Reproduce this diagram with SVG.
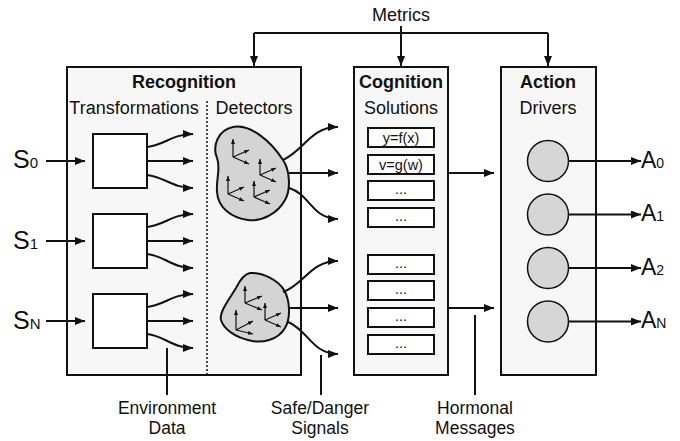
<svg xmlns="http://www.w3.org/2000/svg" width="680" height="441" viewBox="0 0 680 441">
<defs>
<marker id="ah" markerUnits="userSpaceOnUse" markerWidth="10" markerHeight="8" refX="10" refY="4" orient="auto"><path d="M0,0 L10,4 L0,8 Z" fill="#111"/></marker>
<marker id="sah" markerUnits="userSpaceOnUse" markerWidth="5" markerHeight="4" refX="5" refY="2" orient="auto"><path d="M0,0 L5,2 L0,4 Z" fill="#111"/></marker>
<style>
text{font-family:"Liberation Sans",Arial,sans-serif;fill:#111}
.panel{fill:#f7f7f7;stroke:#111;stroke-width:2}
.box{fill:#fff;stroke:#111;stroke-width:2}
.blob{fill:#d4d4d4;stroke:#111;stroke-width:2}
.drv{fill:#d6d6d6;stroke:#111;stroke-width:1.5}
.ln{fill:none;stroke:#111;stroke-width:2}
.arr{fill:none;stroke:#111;stroke-width:2;marker-end:url(#ah)}
.ax{fill:none;stroke:#111;stroke-width:1.2;marker-end:url(#sah)}
.t{font-size:18px;font-weight:bold;text-anchor:middle}
.s{font-size:18px;text-anchor:middle}
.b{font-size:17.5px;text-anchor:middle}
.f{font-size:14.5px;text-anchor:middle}
.big{font-size:25px}
.bigA{font-size:23px}
</style>
</defs>

<g id="recognition">
<rect class="panel" x="67" y="67" width="234" height="308"/>
<text class="t" x="184" y="88">Recognition</text>
<text class="s" x="134" y="114">Transformations</text>
<text class="s" x="254" y="114">Detectors</text>
<line x1="207" y1="101" x2="207" y2="375" stroke="#111" stroke-width="1.5" stroke-dasharray="2 2"/>
</g>

<g id="transform0"><rect class="box" x="93" y="134" width="54" height="54"/></g>
<g id="transform1"><rect class="box" x="93" y="214" width="54" height="54"/></g>
<g id="transform2"><rect class="box" x="93" y="294" width="54" height="54"/></g>

<g id="detector0">
<path class="blob" d="M233,127 C250,124 270,140 283,160 C290,170 291,190 285,200 C278,213 262,222 248,220 C232,218 218,208 217,192 C216,178 221,168 217,158 C212,146 218,130 233,127 Z"/>
<g>
<path class="ax" d="M233,157 L233,139"/><path class="ax" d="M233,157 L249,150"/><path class="ax" d="M233,157 L249,164"/>
<path class="ax" d="M260,175 L260,159"/><path class="ax" d="M260,175 L276,168"/><path class="ax" d="M260,175 L276,182"/>
<path class="ax" d="M228,194 L228,176"/><path class="ax" d="M228,194 L244,187"/><path class="ax" d="M228,194 L244,201"/>
<path class="ax" d="M254,197 L254,181"/><path class="ax" d="M254,197 L270,190"/><path class="ax" d="M254,197 L270,204"/>
</g>
</g>

<g id="detector1">
<path class="blob" d="M250,273 C262,272 278,280 284,290 C290,300 291,318 285,328 C278,340 262,344 248,340 C236,337 224,330 221,320 C219,312 230,298 236,288 C240,280 244,274 250,273 Z"/>
<g>
<path class="ax" d="M245,303 L245,286"/><path class="ax" d="M245,303 L262,296"/><path class="ax" d="M245,303 L262,310"/>
<path class="ax" d="M265,320 L265,303"/><path class="ax" d="M265,320 L281,313"/><path class="ax" d="M265,320 L281,327"/>
<path class="ax" d="M236,330 L236,310"/><path class="ax" d="M236,330 L253,321"/><path class="ax" d="M236,330 L253,334"/>
</g>
</g>

<g id="cognition">
<rect class="panel" x="354" y="67" width="94" height="308"/>
<text class="t" x="401" y="88">Cognition</text>
<text class="s" x="401" y="114">Solutions</text>
<rect class="box" x="368" y="128" width="66" height="19"/><text class="f" x="401" y="143">y=f(x)</text>
<rect class="box" x="368" y="155" width="66" height="19"/><text class="f" x="401" y="170">v=g(w)</text>
<rect class="box" x="368" y="181" width="66" height="19"/><text class="f" x="401" y="194">...</text>
<rect class="box" x="368" y="208" width="66" height="19"/><text class="f" x="401" y="221">...</text>
<rect class="box" x="368" y="255" width="66" height="19"/><text class="f" x="401" y="268">...</text>
<rect class="box" x="368" y="281" width="66" height="19"/><text class="f" x="401" y="294">...</text>
<rect class="box" x="368" y="308" width="66" height="19"/><text class="f" x="401" y="321">...</text>
<rect class="box" x="368" y="335" width="66" height="19"/><text class="f" x="401" y="348">...</text>
</g>

<g id="action">
<rect class="panel" x="501" y="67" width="95" height="308"/>
<text class="t" x="548" y="88">Action</text>
<text class="s" x="548" y="114">Drivers</text>
<circle class="drv" cx="548" cy="161" r="20.5"/>
<circle class="drv" cx="548" cy="214.5" r="20.5"/>
<circle class="drv" cx="548" cy="268" r="20.5"/>
<circle class="drv" cx="548" cy="321.5" r="20.5"/>
</g>

<g id="metrics"><text class="s" x="401" y="21">Metrics</text></g>
<g id="inputs">
<text x="13" y="168"><tspan class="big">S</tspan><tspan font-size="15px">0</tspan></text>
<text x="13" y="249"><tspan class="big">S</tspan><tspan font-size="15px">1</tspan></text>
<text x="13" y="329"><tspan class="big">S</tspan><tspan font-size="15px">N</tspan></text>
</g>
<g id="outputs">
<text x="641" y="168"><tspan class="bigA">A</tspan><tspan font-size="14px">0</tspan></text>
<text x="641" y="221"><tspan class="bigA">A</tspan><tspan font-size="14px">1</tspan></text>
<text x="641" y="275"><tspan class="bigA">A</tspan><tspan font-size="14px">2</tspan></text>
<text x="641" y="328"><tspan class="bigA">A</tspan><tspan font-size="14px">N</tspan></text>
</g>
<g id="labels">
<text class="b" x="167" y="413.5">Environment</text><text class="b" x="167" y="433.5">Data</text>
<text class="b" x="320" y="413.5">Safe/Danger</text><text class="b" x="320" y="433.5">Signals</text>
<text class="b" x="475" y="413.5">Hormonal</text><text class="b" x="475" y="433.5">Messages</text>
</g>

<g id="connectors">
<path class="ln" d="M254,33 L548,33"/>
<path class="arr" d="M254,33 L254,66"/>
<path class="arr" d="M401,26 L401,66"/>
<path class="arr" d="M548,33 L548,66"/>

<path class="arr" d="M46,161 L85,161"/>
<path class="arr" d="M46,241 L85,241"/>
<path class="arr" d="M46,321 L85,321"/>

<path class="arr" d="M147,147 C165,145 172,134 193,134"/>
<path class="arr" d="M147,161 L193,161"/>
<path class="arr" d="M147,175 C165,177 172,188 193,188"/>
<path class="arr" d="M147,227 C165,225 172,214 193,214"/>
<path class="arr" d="M147,241 L193,241"/>
<path class="arr" d="M147,254 C165,256 172,268 193,268"/>
<path class="arr" d="M147,307 C165,305 172,294 193,294"/>
<path class="arr" d="M147,321 L193,321"/>
<path class="arr" d="M147,334 C165,336 172,348 193,348"/>

<path class="arr" d="M283,160 C305,150 310,127 338,127"/>
<path class="arr" d="M289,173 L338,173"/>
<path class="arr" d="M289,188 C310,194 312,219 338,219"/>
<path class="arr" d="M283,292 C305,284 310,261 338,261"/>
<path class="arr" d="M289,308 L338,308"/>
<path class="arr" d="M288,322 C308,330 312,354 338,354"/>

<path class="arr" d="M448,173 L494,173"/>
<path class="arr" d="M448,308 L494,308"/>

<path class="arr" d="M569,161 L641,161"/>
<path class="arr" d="M569,214.5 L641,214.5"/>
<path class="arr" d="M569,268 L641,268"/>
<path class="arr" d="M569,321.5 L641,321.5"/>

<path class="ln" d="M167,348 L167,395"/>
<path class="ln" d="M321,355 L321,395"/>
<path class="ln" d="M475,315 L475,395"/>
</g>
</svg>
